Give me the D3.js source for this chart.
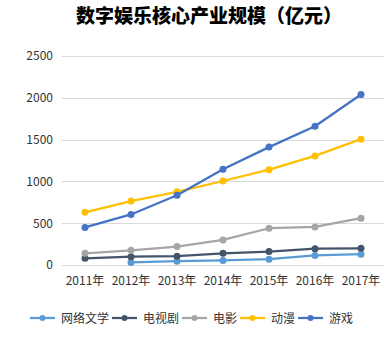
<!DOCTYPE html>
<html><head><meta charset="utf-8">
<script src="https://cdn.jsdelivr.net/npm/d3@7"></script>
<style>body{margin:0;background:#fff;}svg{display:block;}</style>
</head><body>
<svg id="chart" width="386" height="337"></svg>
<script>
const title = "数字娱乐核心产业规模（亿元）";
const categories = ["2011年","2012年","2013年","2014年","2015年","2016年","2017年"];
const yTicks = [0, 500, 1000, 1500, 2000, 2500];
const seriesNames = ["网络文学","电视剧","电影","动漫","游戏"];
const seriesColors = ["#5B9BD5","#44546A","#A5A5A5","#FFC000","#4472C4"];
const wangluowenxue = [null, 30, 45, 55, 70, 115, 130];
const dianshiju = [80, 100, 105, 140, 160, 195, 200];
const dianying = [140, 175, 220, 300, 440, 455, 560];
const dongman = [630, 765, 875, 1005, 1140, 1305, 1505];
const youxi = [450, 605, 835, 1145, 1410, 1660, 2040];
const seriesValues = [wangluowenxue, dianshiju, dianying, dongman, youxi];

const font = "'Noto Sans CJK SC', 'Noto Sans', sans-serif";
const svg = d3.select("#chart");

svg.append("text").attr("x", 76).attr("y", 23)
  .attr("font-family", font).attr("font-size", 19).attr("font-weight", 900)
  .attr("fill", "#000").text(title);

const x = d3.scaleBand().domain(categories).range([62, 384]);
const y = d3.scaleLinear().domain([0, 2500]).range([265, 56]);

const grid = svg.append("g");
grid.selectAll("line").data(yTicks).join("line")
  .attr("x1", 62).attr("x2", 384)
  .attr("y1", d => Math.round(y(d)) + 0.5).attr("y2", d => Math.round(y(d)) + 0.5)
  .attr("stroke", "#d9d9d9").attr("stroke-width", 1);

const yAxis = svg.append("g").attr("transform", "translate(62,0)")
  .call(d3.axisLeft(y).tickValues(yTicks).tickSize(0).tickPadding(9).tickFormat(d3.format("d")));
yAxis.select(".domain").remove();
yAxis.selectAll("text").attr("font-family", font).attr("font-size", 12).attr("fill", "#333");

const xAxis = svg.append("g").attr("transform", "translate(0,265)")
  .call(d3.axisBottom(x).tickSize(0).tickPadding(11));
xAxis.select(".domain").remove();
xAxis.selectAll("text").attr("font-family", font).attr("font-size", 12).attr("fill", "#333");

const cx = d => x(d) + x.bandwidth() / 2;
const line = d3.line().defined(d => d.v != null).x(d => cx(d.c)).y(d => y(d.v));

seriesNames.forEach((name, i) => {
  const pts = categories.map((c, j) => ({c, v: seriesValues[i][j]}));
  const g = svg.append("g");
  g.append("path").datum(pts).attr("d", line).attr("fill", "none")
    .attr("stroke", seriesColors[i]).attr("stroke-width", 2.25).attr("stroke-linejoin", "round");
  g.selectAll("circle").data(pts.filter(p => p.v != null)).join("circle")
    .attr("cx", p => cx(p.c)).attr("cy", p => y(p.v)).attr("r", 3.5)
    .attr("fill", seriesColors[i]);
});

// legend
const legend = svg.append("g");
let lx = 30;
const ly = 318;
seriesNames.forEach((name, i) => {
  legend.append("line").attr("x1", lx).attr("x2", lx + 25).attr("y1", ly).attr("y2", ly)
    .attr("stroke", seriesColors[i]).attr("stroke-width", 2.25);
  legend.append("circle").attr("cx", lx + 12.5).attr("cy", ly).attr("r", 3).attr("fill", seriesColors[i]);
  const t = legend.append("text").attr("x", lx + 31).attr("y", ly + 4.5)
    .attr("font-family", font).attr("font-size", 12).attr("fill", "#333").text(name);
  lx = lx + 31 + t.node().getComputedTextLength() + 3;
});
</script>
</body></html>
